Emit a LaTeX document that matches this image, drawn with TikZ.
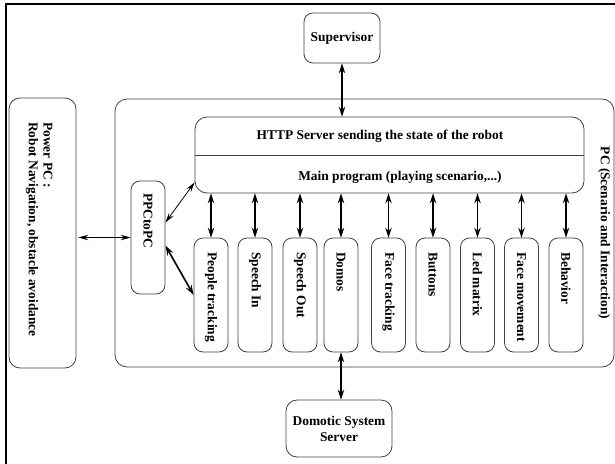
\documentclass[tikz,border=0pt]{standalone}
\usepackage{fontspec}
\setmainfont{Liberation Serif}
\usetikzlibrary{arrows.meta,calc}
\begin{document}
\begin{tikzpicture}[x=1pt,y=-1pt,
  box/.style={draw=black!75, line width=0.8pt, rounded corners=9pt, inner sep=0pt,
    font=\fontsize{13.4}{16}\selectfont\bfseries, align=center},
  modbox/.style={box, minimum width=34pt, minimum height=114pt},
  txt/.style={font=\fontsize{13.4}{16}\selectfont\bfseries, inner sep=0pt},
  vtxt/.style={txt, rotate=-90, anchor=west},
  bigarrow/.style={line width=1.6pt, {Stealth[length=10pt,width=6.5pt,inset=3.5pt]}-{Stealth[length=10pt,width=6.5pt,inset=3.5pt]}},
  smallarrow/.style={line width=0.8pt, {Stealth[length=10pt,width=5.5pt,inset=3.5pt]}-{Stealth[length=10pt,width=5.5pt,inset=3.5pt]}}
]
\useasboundingbox (0,0) rectangle (615,463);
% outer frame (top and left only visible)
\draw[line width=2pt] (6,470) -- (6,4.3) -- (620,4.3);

% Supervisor
\node[box, minimum width=76pt, minimum height=50pt] (sup) at (342,38) {Supervisor};

% Power PC
\node[box, minimum width=67pt, minimum height=270pt, rounded corners=11pt] (pw) at (42.5,233) {};
\node[vtxt] (pwa) at (48,122) {Power PC :};
\node[vtxt] (pwb) at (32,122) {Robot Navigation, obstacle avoidance};

% PC box
\node[box, minimum width=499pt, minimum height=268pt, rounded corners=12pt] (pc) at (364.5,233) {};
\node[vtxt, anchor=center] (pcl) at (604,233) {PC (Scenario and Interaction)};

% HTTP / main program
\node[box, minimum width=389pt, minimum height=76pt, rounded corners=12pt] (http) at (389.5,155) {};
\draw[draw=black!75, line width=0.8pt] (http.west) -- (http.east);
\node[txt] (httpt) at (380,136) {HTTP Server sending the state of the robot};
\node[txt] (mainp) at (400,177) {Main program (playing scenario,...)};

% PPCtoPC
\node[box, minimum width=34pt, minimum height=113pt] (ppc) at (148,237.5) {};
\node[vtxt] (ppct) at (148,193) {PPCtoPC};

% modules
\foreach \i/\x/\t in {1/211/People tracking, 2/255/Speech In, 3/300/Speech Out,
  4/341/Domos, 5/388.5/Face tracking, 6/433/Buttons, 7/477.5/Led matrix,
  8/521.5/Face movement, 9/566/Behavior}{
  \node[modbox] (m\i) at (\x,295) {};
  \node[vtxt] (t\i) at (\x,252) {\t};
  \draw[bigarrow] (m\i.north |- http.south) -- (m\i.north);
}

% Domotic system server
\node[box, minimum width=106pt, minimum height=57pt, rounded corners=11pt] (dom) at (339,428.5) {Domotic System\\Server};

% connectors
\draw[bigarrow] (sup.south) -- (sup.south |- http.north);
\draw[bigarrow] (m4.south) -- (m4.south |- dom.north);
\draw[smallarrow] ([xshift=2pt]pw.east |- ppc.west) -- (ppc.west);
\draw[smallarrow] ([yshift=15pt]ppc.east) -- ([yshift=11pt]http.south west);
\draw[bigarrow] ([yshift=-8pt]ppc.east) -- (m1.west);
\end{tikzpicture}
\end{document}
